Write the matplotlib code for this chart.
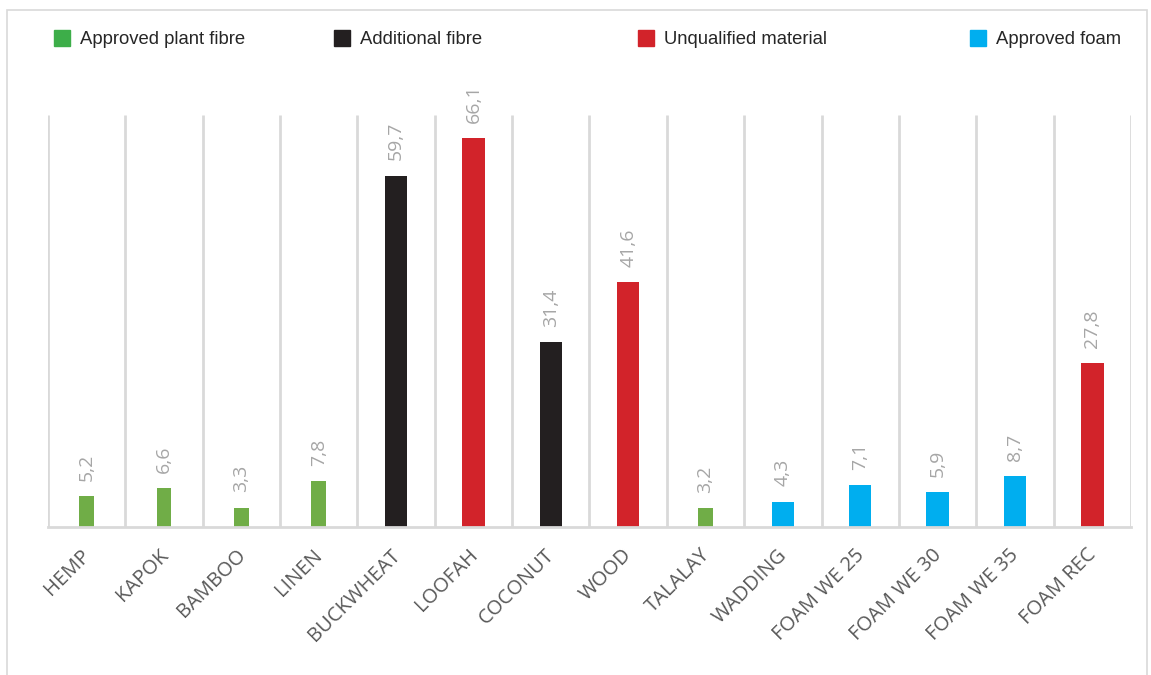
import matplotlib.pyplot as plt
from matplotlib.patches import Rectangle
from matplotlib.transforms import ScaledTranslation

# Datos por material
materials = ["HEMP", "KAPOK", "BAMBOO", "LINEN", "BUCKWHEAT", "LOOFAH", "COCONUT",
             "WOOD", "TALALAY", "WADDING", "FOAM WE 25", "FOAM WE 30", "FOAM WE 35", "FOAM REC"]
values = [5.2, 6.6, 3.3, 7.8, 59.7, 66.1, 31.4, 41.6, 3.2, 4.3, 7.1, 5.9, 8.7, 27.8]
groups = ["plant", "plant", "plant", "plant", "extra", "unq", "extra",
          "unq", "plant", "foam", "foam", "foam", "foam", "unq"]

group_names = {"plant": "Approved plant fibre", "extra": "Additional fibre",
               "unq": "Unqualified material", "foam": "Approved foam"}
bar_col = {"plant": "#70AD47", "extra": "#231F20", "unq": "#D2232A", "foam": "#00AEEF"}
legend_col = {"plant": "#3DAE49", "extra": "#231F20", "unq": "#D2232A", "foam": "#00AEEF"}
bar_w = {"plant": 0.19, "extra": 0.29, "unq": 0.29, "foam": 0.29}

W, H = 1151, 675
fig = plt.figure(figsize=(W / 100, H / 100), dpi=100)
grid_c = "#D9D9D9"

# marco del grafico
fig.add_artist(Rectangle((7 / W, -0.01), (1147 - 7) / W, (H - 10) / H + 0.01,
                         transform=fig.transFigure, fill=False, ec=grid_c, lw=1.2))

ax = fig.add_axes([48 / W, (H - 527) / H, (1131 - 48) / W, (527 - 115) / H])
n = len(materials)
ax.set_xlim(-0.5, n - 0.5)
ax.set_ylim(0, 70)
ax.vlines([k - 0.5 for k in range(n + 1)], 0, 70, color=grid_c, lw=2, zorder=0)
for s in ["top", "right", "left"]:
    ax.spines[s].set_visible(False)
ax.spines["bottom"].set_color(grid_c)
ax.spines["bottom"].set_linewidth(2)
ax.set_yticks([])

for i, (v, g) in enumerate(zip(values, groups)):
    ax.bar(i, v, width=bar_w[g], color=bar_col[g], zorder=2)
    ax.annotate(f"{v:.1f}".replace(".", ","), (i, v), xytext=(0, 11),
                textcoords="offset points", rotation=90, ha="center", va="bottom",
                fontsize=14, color="#A6A6A6", family="Open Sans")

ax.set_xticks(range(n))
ax.set_xticklabels(materials, rotation=45, ha="right", va="top",
                   rotation_mode="anchor", fontsize=14.5, color="#595959",
                   family="Open Sans")
ax.tick_params(axis="x", length=0, pad=13)
# correr un poco las etiquetas a la izquierda
shift = ScaledTranslation(-6 / 100, 0, fig.dpi_scale_trans)
for lbl in ax.get_xticklabels():
    lbl.set_transform(lbl.get_transform() + shift)

# leyenda manual
leg_x = {"plant": 54, "extra": 334, "unq": 638, "foam": 970}
for g, x0 in leg_x.items():
    fig.add_artist(Rectangle((x0 / W, (H - 46) / H), 16 / W, 16 / H,
                             transform=fig.transFigure, color=legend_col[g]))
    fig.text((x0 + 26) / W, (H - 40) / H, group_names[g], ha="left", va="center",
             fontsize=13.3, color="#262626", family="Liberation Sans")

fig.savefig("out.png", dpi=100)
